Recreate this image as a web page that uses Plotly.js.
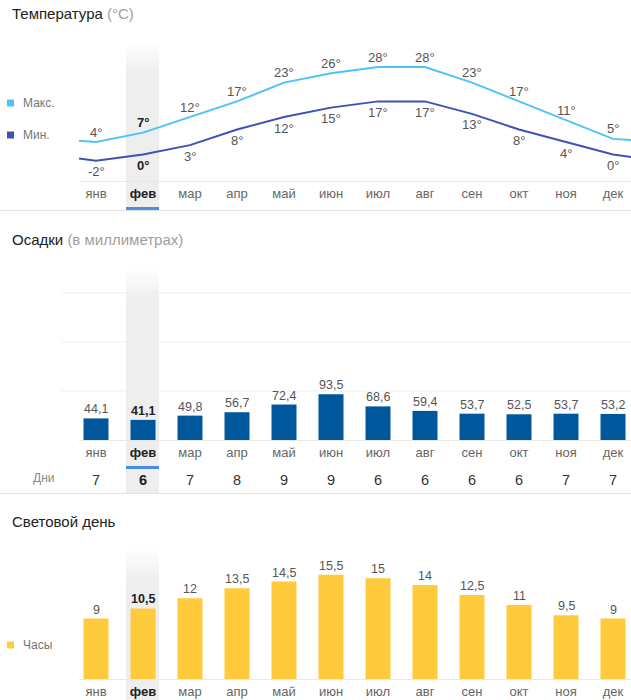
<!DOCTYPE html>
<html><head><meta charset="utf-8">
<script src="https://cdn.plot.ly/plotly-3.0.1.min.js"></script>
<style>html,body{margin:0;padding:0;background:#fff;overflow:hidden}#chart{width:631px;height:700px}</style>
</head><body><div id="chart"></div><script>
// ---- data ----
const months = ['янв','фев','мар','апр','май','июн','июл','авг','сен','окт','ноя','дек'];
const tempMax = [4,7,12,17,23,26,28,28,23,17,11,5];
const tempMin = [-2,0,3,8,12,15,17,17,13,8,4,0];
const precipMm = [44.1,41.1,49.8,56.7,72.4,93.5,68.6,59.4,53.7,52.5,53.7,53.2];
const rainDays = [7,6,7,8,9,9,6,6,6,6,7,7];
const daylightHours = [9,10.5,12,13.5,14.5,15.5,15,14,12.5,11,9.5,9];
const currentMonth = 1;

// ---- layout helpers ----
const W = 631, H = 700;
const px = p => p / W;
const py = p => 1 - p / H;
const FONT = '"Liberation Sans", Arial, sans-serif';
const idx = months.map((_, i) => i);
const fmt = v => String(v).replace('.', ',');
const colMax = '#4fc3f7', colMin = '#3f51b5', colRain = '#01579b', colSun = '#ffca3c';

// wrap-around series so lines run to the panel edges
const wrapX = [-1, ...idx, months.length];
const wrap = a => [a[a.length - 1], ...a, a[0]];

const xRange = [(79 - 96) / 47, (631 - 96) / 47];
const tickText = months.map((m, i) => i === currentMonth ? '<span style="color:#212121"><b>' + m + '</b></span>' : m);
const xBase = {
  domain: [px(79), 1], range: xRange, tickvals: idx, ticktext: tickText,
  showline: true, linecolor: '#e8e8e8', linewidth: 1, showgrid: false, zeroline: false,
  ticks: '', tickfont: {size: 13, color: '#666', family: FONT}, fixedrange: true
};
const yHidden = {visible: false, fixedrange: true, showgrid: false, zeroline: false};

const traces = [
  {type: 'scatter', mode: 'lines', x: wrapX, y: wrap(tempMax), xaxis: 'x', yaxis: 'y',
   line: {color: colMax, width: 2}, hoverinfo: 'skip', showlegend: false},
  {type: 'scatter', mode: 'lines', x: wrapX, y: wrap(tempMin), xaxis: 'x', yaxis: 'y',
   line: {color: colMin, width: 2}, hoverinfo: 'skip', showlegend: false},
  {type: 'bar', x: idx, y: precipMm, xaxis: 'x2', yaxis: 'y2', marker: {color: colRain},
   hoverinfo: 'skip', showlegend: false},
  {type: 'bar', x: idx, y: daylightHours, xaxis: 'x3', yaxis: 'y3', marker: {color: colSun},
   hoverinfo: 'skip', showlegend: false}
];

const ann = [];
const shapes = [];
const bold = (i, s) => i === currentMonth ? '<b>' + s + '</b>' : s;
const valColor = i => i === currentMonth ? '#212121' : '#555';

idx.forEach(i => {
  ann.push({x: i, y: tempMax[i], xref: 'x', yref: 'y', text: bold(i, tempMax[i] + '°'), showarrow: false,
    yanchor: 'middle', yshift: 10, font: {size: 13, color: valColor(i), family: FONT}});
  ann.push({x: i, y: tempMin[i], xref: 'x', yref: 'y', text: bold(i, tempMin[i] + '°'), showarrow: false,
    yanchor: 'middle', yshift: -11, font: {size: 13, color: valColor(i), family: FONT}});
  ann.push({x: i, y: precipMm[i], xref: 'x2', yref: 'y2', text: bold(i, fmt(precipMm[i])), showarrow: false,
    yanchor: 'middle', yshift: 9, font: {size: 12.5, color: valColor(i), family: FONT}});
  ann.push({x: i, y: daylightHours[i], xref: 'x3', yref: 'y3', text: bold(i, fmt(daylightHours[i])), showarrow: false,
    yanchor: 'middle', yshift: 9, font: {size: 12.5, color: valColor(i), family: FONT}});
  ann.push({x: i, y: py(480), xref: 'x2', yref: 'paper', xanchor: 'center', yanchor: 'middle',
    text: bold(i, String(rainDays[i])), showarrow: false,
    font: {size: 14.5, color: i === currentMonth ? '#212121' : '#333', family: FONT}});
});

// titles
const title = (t, sub, yc) => ann.push({x: px(10), y: py(yc), xref: 'paper', yref: 'paper', xanchor: 'left',
  yanchor: 'middle', showarrow: false, align: 'left',
  text: t + (sub ? ' <span style="color:#9e9e9e">' + sub + '</span>' : ''),
  font: {size: 15, color: '#212121', family: FONT}});
title('Температура', '(°C)', 13);
title('Осадки', '(в миллиметрах)', 239);
title('Световой день', '', 521);

// legends
const legend = (label, color, yc) => {
  shapes.push({type: 'rect', xref: 'paper', yref: 'paper', x0: px(7), x1: px(14), y0: py(yc + 3.5), y1: py(yc - 3.5),
    fillcolor: color, line: {width: 0}});
  ann.push({x: px(21), y: py(yc), xref: 'paper', yref: 'paper', xanchor: 'left', yanchor: 'middle', showarrow: false,
    text: label, font: {size: 12, color: '#757575', family: FONT}});
};
legend('Макс.', colMax, 103);
legend('Мин.', colMin, 135);
legend('Часы', colSun, 645);
ann.push({x: px(43), y: py(478), xref: 'paper', yref: 'paper', xanchor: 'center', yanchor: 'middle', showarrow: false,
  text: 'Дни', font: {size: 12, color: '#8a8a8a', family: FONT}});

// highlighted month band with a soft top fade
const band = (top, bottom) => {
  const N = 8, step = 3.5, a = 0.065;
  for (let k = 0; k < N; k++) {
    shapes.push({type: 'rect', layer: 'below', xref: 'paper', yref: 'paper', x0: px(126), x1: px(159),
      y0: py(top + k * step + step), y1: py(top + k * step), fillcolor: 'rgba(0,0,0,' + (a * (k + 1) / (N + 1)).toFixed(4) + ')',
      line: {width: 0}});
  }
  shapes.push({type: 'rect', layer: 'below', xref: 'paper', yref: 'paper', x0: px(126), x1: px(159),
    y0: py(bottom), y1: py(top + N * step), fillcolor: 'rgba(0,0,0,' + a + ')', line: {width: 0}});
};
band(43, 210);
band(270, 493);
band(550, 700);

// underline below current month
[[207, 210], [466, 469]].forEach(([a, b]) => shapes.push({type: 'rect', xref: 'paper', yref: 'paper',
  x0: px(126), x1: px(159), y0: py(b), y1: py(a), fillcolor: '#4a8fde', line: {width: 0}}));

// separators
[210.5, 493.5].forEach(y => shapes.push({type: 'line', xref: 'paper', yref: 'paper', x0: 0, x1: 1, y0: py(y), y1: py(y),
  line: {color: '#e3e3e3', width: 1}}));

// precipitation gridlines
[100, 200, 300].forEach(v => shapes.push({type: 'line', layer: 'below', xref: 'paper', yref: 'y2', x0: px(62), x1: 1,
  y0: v, y1: v, line: {color: '#ededed', width: 1}}));

const layout = {
  width: W, height: H, margin: {l: 0, r: 0, t: 0, b: 0},
  paper_bgcolor: '#fff', plot_bgcolor: 'rgba(0,0,0,0)',
  font: {family: FONT}, showlegend: false, bargap: 0.468, separators: ', ',
  xaxis: Object.assign({}, xBase, {anchor: 'y'}),
  xaxis2: Object.assign({}, xBase, {anchor: 'y2'}),
  xaxis3: Object.assign({}, xBase, {anchor: 'y3'}),
  yaxis: Object.assign({}, yHidden, {domain: [py(181), py(45)], range: [(154.5 - 181) / 3.125, (154.5 - 45) / 3.125]}),
  yaxis2: Object.assign({}, yHidden, {domain: [py(440), py(272)], range: [0, 168 / 0.49]}),
  yaxis3: Object.assign({}, yHidden, {domain: [py(679), py(552)], range: [0, 127 / 6.72]}),
  annotations: ann, shapes: shapes
};

Plotly.newPlot('chart', traces, layout, {displayModeBar: false, staticPlot: true});
</script></body></html>
